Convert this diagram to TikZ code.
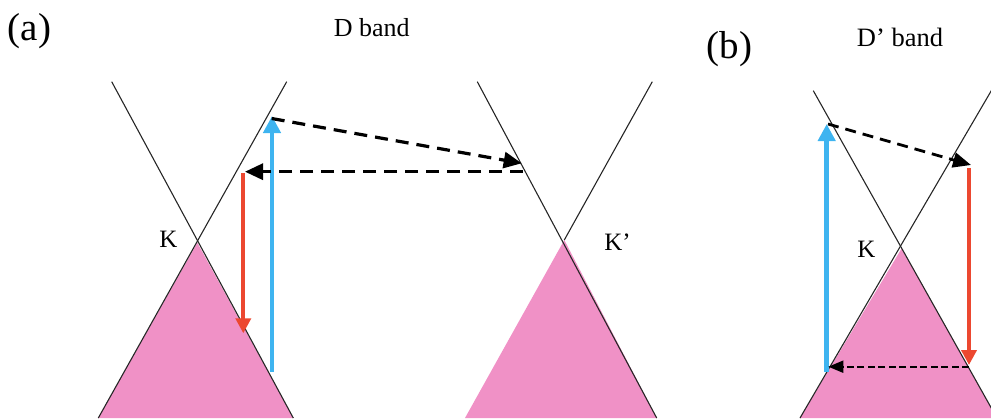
\documentclass[tikz,border=0pt]{standalone}
\usepackage{fontspec}
\setmainfont{Liberation Serif}
\usetikzlibrary{arrows.meta}
\definecolor{conepink}{RGB}{240,145,198}
\definecolor{exblue}{RGB}{62,180,240}
\definecolor{emred}{RGB}{236,72,48}
\begin{document}
\begin{tikzpicture}[x=1pt,y=-1pt,
  band/.style={draw=black!85, line width=1.1pt},
  valence/.style={fill=conepink},
  lab/.style={inner sep=0pt, anchor=base, font=\fontsize{25}{30}\selectfont},
  biglab/.style={inner sep=0pt, anchor=base, font=\fontsize{39}{44}\selectfont},
  blueup/.style={draw=exblue, line width=4.6pt, -{Triangle[length=17pt,width=17pt]}},
  reddown/.style={draw=emred, line width=4pt, -{Triangle[length=15pt,width=15pt]}},
  scatterA/.style={draw=black, line width=3.2pt, dash pattern=on 13pt off 8pt, -{Triangle[length=18pt,width=16pt]}},
  scatterB/.style={draw=black, line width=2.8pt, dash pattern=on 11pt off 7pt, -{Triangle[length=18pt,width=15pt]}},
  scatterC/.style={draw=black, line width=1.9pt, dash pattern=on 7pt off 3.5pt, -{Triangle[length=15pt,width=12pt]}}
]
\useasboundingbox (0,0) rectangle (991,418);
\clip (0,0) rectangle (991,418);

% ---- panel (a): K cone
\coordinate (Ka) at (197.3,242.7);
\coordinate (aUL) at (111.7,81.7);
\coordinate (aUR) at (286.7,81.7);
\coordinate (aLL) at (98.3,418);
\coordinate (aLR) at (293.3,418);
\fill[valence] (Ka) -- (aLL) -- (aLR) -- cycle;
\draw[band] (aUL) -- (aLR);
\draw[band] (aUR) -- (aLL);

% ---- panel (a): K' cone
\coordinate (Kp) at (564.3,240);
\coordinate (pUL) at (477.3,81.7);
\coordinate (pUR) at (652.3,81.7);
\coordinate (pLL) at (465,418);
\coordinate (pLR) at (656.7,418);
\fill[valence] (Kp) -- (pLL) -- (pLR) -- cycle;
\draw[band] (pUL) -- (pLR);
\draw[band] (pUR) -- (Kp);

% ---- panel (b): K cone
\coordinate (Kb) at (901.7,248.3);
\coordinate (bUL) at (813.3,90.7);
\coordinate (bUR) at (1000,75.8);
\coordinate (bLL) at (800,418);
\coordinate (bLR) at (996.9,418);
\fill[valence] (Kb) -- (bLL) -- (bLR) -- cycle;
\draw[band] (bUL) -- (bLR);
\draw[band] (bUR) -- (bLL);

% ---- labels
\node[biglab] (la) at (29.5,40) {(a)};
\node[biglab] (lb) at (729.5,58) {(b)};
\node[lab, font=\fontsize{26}{30}\selectfont] (tD) at (371.7,36) {D band};
\node[lab, font=\fontsize{26.5}{30}\selectfont] (tDp) at (900,46.7) {D’ band};
\node[lab] (tK) at (168.5,247) {K};
\node[lab] (tKp) at (617.5,250) {K’};
\node[lab] (tKb) at (866.5,257) {K};

% ---- arrows (a)
\coordinate (a1) at (272,371.7);
\coordinate (a2) at (272,116);
\coordinate (a3) at (271.7,118.5);
\coordinate (a4) at (521.7,163.3);
\coordinate (a5) at (523,171.7);
\coordinate (a6) at (245,171.7);
\coordinate (a7) at (243.3,173.3);
\coordinate (a8) at (243.3,333.3);
\draw[blueup] (a1) -- (a2);
\draw[reddown] (a7) -- (a8);
\draw[scatterA] (a3) -- (a4);
\draw[scatterA] (a5) -- (a6);

% ---- arrows (b)
\coordinate (b1) at (826.7,371.7);
\coordinate (b2) at (826.7,124);
\coordinate (b3) at (828,124);
\coordinate (b4) at (971,165);
\coordinate (b5) at (969,168.3);
\coordinate (b6) at (969,365);
\coordinate (b7) at (969,366.7);
\coordinate (b8) at (828.3,366.7);
\draw[blueup] (b1) -- (b2);
\draw[scatterB] (b3) -- (b4);
\draw[reddown] (b5) -- (b6);
\draw[scatterC] (b7) -- (b8);
\end{tikzpicture}
\end{document}
